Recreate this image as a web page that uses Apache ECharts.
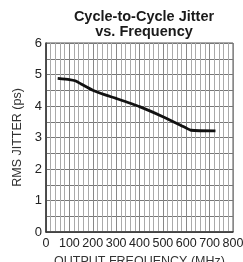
<!DOCTYPE html>
<html>
<head>
<meta charset="utf-8">
<script src="https://cdn.jsdelivr.net/npm/echarts@6/dist/echarts.min.js"></script>
<style>
  html, body { margin: 0; padding: 0; background: #fff; }
  #chart { width: 243px; height: 262px; }
</style>
</head>
<body>
<div id="chart"></div>
<script>
// output frequency (MHz) and rms jitter (ps)
const freq = [50, 100, 125, 150, 200, 250, 300, 400, 500, 600, 620, 725]
const jitter = [4.88, 4.84, 4.8, 4.7, 4.5, 4.36, 4.24, 3.98, 3.66, 3.3, 3.23, 3.21]

const xTicks = [0, 100, 200, 300, 400, 500, 600, 700, 800]
const yTicks = [0, 1, 2, 3, 4, 5, 6]

const chart = echarts.init(document.getElementById('chart'))

const font = 'Liberation Sans, Arial, sans-serif'

const option = {
  animation: false,
  title: {
    text: 'Cycle-to-Cycle Jitter\nvs. Frequency',
    left: 139,
    top: 4,
    textAlign: 'center',
    textStyle: {
      fontFamily: font,
      fontSize: 14.5,
      fontWeight: 'bold',
      color: '#1a1a1a',
      lineHeight: 15
    }
  },
  grid: {
    left: 46,
    right: 10,
    top: 43,
    bottom: 30,
    containLabel: false,
    outerBoundsMode: 'none',
    show: true,
    borderColor: '#555',
    borderWidth: 1
  },
  xAxis: {
    type: 'value',
    min: xTicks[0],
    max: xTicks[xTicks.length - 1],
    interval: 100,
    name: 'OUTPUT FREQUENCY (MHz)',
    nameLocation: 'middle',
    nameGap: 21,
    nameTextStyle: {fontFamily: font, fontSize: 12.5, color: '#333'},
    axisLine: {lineStyle: {color: '#333', width: 1.5}},
    axisTick: {show: false},
    axisLabel: {fontFamily: font, fontSize: 12.5, color: '#222', margin: 5},
    splitLine: {show: true, lineStyle: {color: '#888', width: 1}},
    minorTick: {show: false, splitNumber: 5},
    minorSplitLine: {show: true, lineStyle: {color: '#aaa', width: 1}}
  },
  yAxis: {
    type: 'value',
    min: yTicks[0],
    max: yTicks[yTicks.length - 1],
    interval: 1,
    name: 'RMS JITTER (ps)',
    nameLocation: 'middle',
    nameGap: 22,
    nameTextStyle: {fontFamily: font, fontSize: 12.5, color: '#333'},
    axisLine: {show: true, lineStyle: {color: '#333', width: 1.5}},
    axisTick: {show: false},
    axisLabel: {fontFamily: font, fontSize: 13, color: '#222', margin: 4},
    splitLine: {show: true, lineStyle: {color: '#777', width: 1}},
    minorTick: {show: false, splitNumber: 2},
    minorSplitLine: {show: true, lineStyle: {color: '#777', width: 1}}
  },
  series: [
    {
      type: 'line',
      data: freq.map((f, i) => [f, jitter[i]]),
      showSymbol: false,
      smooth: 0.2,
      lineStyle: {color: '#111', width: 2.8}
    }
  ]
}

chart.setOption(option)
</script>
</body>
</html>
